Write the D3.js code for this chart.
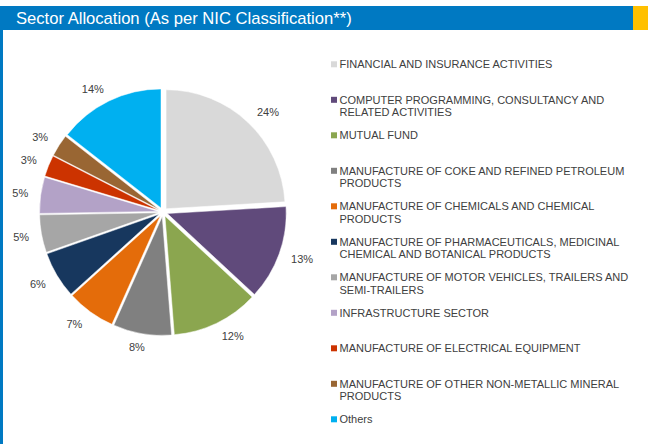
<!DOCTYPE html>
<html>
<head>
<meta charset="utf-8">
<script src="https://cdn.jsdelivr.net/npm/d3@7"></script>
<style>
  html, body { margin: 0; padding: 0; background: #ffffff; }
  svg { display: block; }
</style>
</head>
<body>
<svg id="chart" width="648" height="444"></svg>
<script>
// ---- data ----
const title = "Sector Allocation (As per NIC Classification**)";
const categories = [
  "FINANCIAL AND INSURANCE ACTIVITIES",
  "COMPUTER PROGRAMMING, CONSULTANCY AND RELATED ACTIVITIES",
  "MUTUAL FUND",
  "MANUFACTURE OF COKE AND REFINED PETROLEUM PRODUCTS",
  "MANUFACTURE OF CHEMICALS AND CHEMICAL PRODUCTS",
  "MANUFACTURE OF PHARMACEUTICALS, MEDICINAL CHEMICAL AND BOTANICAL PRODUCTS",
  "MANUFACTURE OF MOTOR VEHICLES, TRAILERS AND SEMI-TRAILERS",
  "INFRASTRUCTURE SECTOR",
  "MANUFACTURE OF ELECTRICAL EQUIPMENT",
  "MANUFACTURE OF OTHER NON-METALLIC MINERAL PRODUCTS",
  "Others"
];
// estimated shares (%)
const values = [24.0, 12.8, 11.8, 7.9, 6.6, 6.3, 5.1, 4.9, 2.9, 3.0, 14.4];
const labels = ["24%", "13%", "12%", "8%", "7%", "6%", "5%", "5%", "3%", "3%", "14%"];
const colors = ["#d9d9d9", "#604a7b", "#8ba64f", "#808080", "#e46c0a", "#17375e",
                "#a6a6a6", "#b3a2c7", "#cc3300", "#996633", "#00b0f0"];

// ---- layout ----
const svg = d3.select("#chart");
const W = 648, H = 444;
const textColor = "#404040";
const font = "'Liberation Sans', Arial, sans-serif";

// header
svg.append("rect").attr("x", 0).attr("y", 6).attr("width", 633).attr("height", 24).attr("fill", "#0079c2");
svg.append("rect").attr("x", 633).attr("y", 6).attr("width", 15).attr("height", 24).attr("fill", "#ffc000");
svg.append("rect").attr("x", 0).attr("y", 30).attr("width", 3).attr("height", H - 30).attr("fill", "#0079c2");
svg.append("text")
  .attr("x", 16).attr("y", 24)
  .attr("fill", "#ffffff")
  .style("font-family", font)
  .style("font-size", "16.6px")
  .text(title);

// pie
const cx = 163, cy = 212, R = 119, explode = 4.5, anchorR = 134;
const pie = d3.pie().sort(null).value(d => d).startAngle(0).endAngle(2 * Math.PI);
const arcs = pie(values);
const arc = d3.arc().innerRadius(0).outerRadius(R);

const g = svg.append("g").attr("transform", `translate(${cx},${cy})`);
g.selectAll("path.slice")
  .data(arcs)
  .join("path")
  .attr("class", "slice")
  .attr("d", arc)
  .attr("fill", (d, i) => colors[i])
  .attr("stroke", "#ffffff")
  .attr("stroke-width", 0.5)
  .attr("transform", d => {
    const m = (d.startAngle + d.endAngle) / 2;
    return `translate(${explode * Math.sin(m)},${-explode * Math.cos(m)})`;
  });

const clamp = v => Math.max(-1, Math.min(1, v));
const lbl = g.selectAll("text.lbl")
  .data(arcs)
  .join("text")
  .attr("class", "lbl")
  .attr("text-anchor", "middle")
  .attr("dominant-baseline", "central")
  .attr("fill", textColor)
  .style("font-family", font)
  .style("font-size", "11px")
  .text((d, i) => labels[i]);
lbl.each(function (d) {
  const m = (d.startAngle + d.endAngle) / 2;
  const s = Math.sin(m), c = -Math.cos(m);
  const hw = this.getComputedTextLength() / 2 + 2, hh = 3;
  d3.select(this)
    .attr("x", anchorR * s + hw * clamp(2 * s))
    .attr("y", anchorR * c + hh * clamp(2 * c));
});

// legend
const ly = d3.scalePoint().domain(categories).range([64.3, 419.3]);
const lx = 339.5, maxW = 294, lineH = 12.3;
const leg = svg.append("g");
categories.forEach((c, i) => {
  const y = ly(c);
  leg.append("rect")
    .attr("x", 331).attr("y", y - 3).attr("width", 6).attr("height", 6)
    .attr("fill", colors[i]);
  const t = leg.append("text")
    .attr("fill", textColor)
    .style("font-family", font)
    .style("font-size", "11px");
  const words = c.split(" ");
  let line = [];
  let lineNo = 0;
  let ts = t.append("tspan").attr("x", lx).attr("y", y).attr("dominant-baseline", "central");
  words.forEach(w => {
    line.push(w);
    ts.text(line.join(" "));
    if (ts.node().getComputedTextLength() > maxW && line.length > 1) {
      line.pop();
      ts.text(line.join(" "));
      line = [w];
      lineNo++;
      ts = t.append("tspan").attr("x", lx).attr("y", y + lineNo * lineH)
        .attr("dominant-baseline", "central").text(w);
    }
  });
});
</script>
</body>
</html>
